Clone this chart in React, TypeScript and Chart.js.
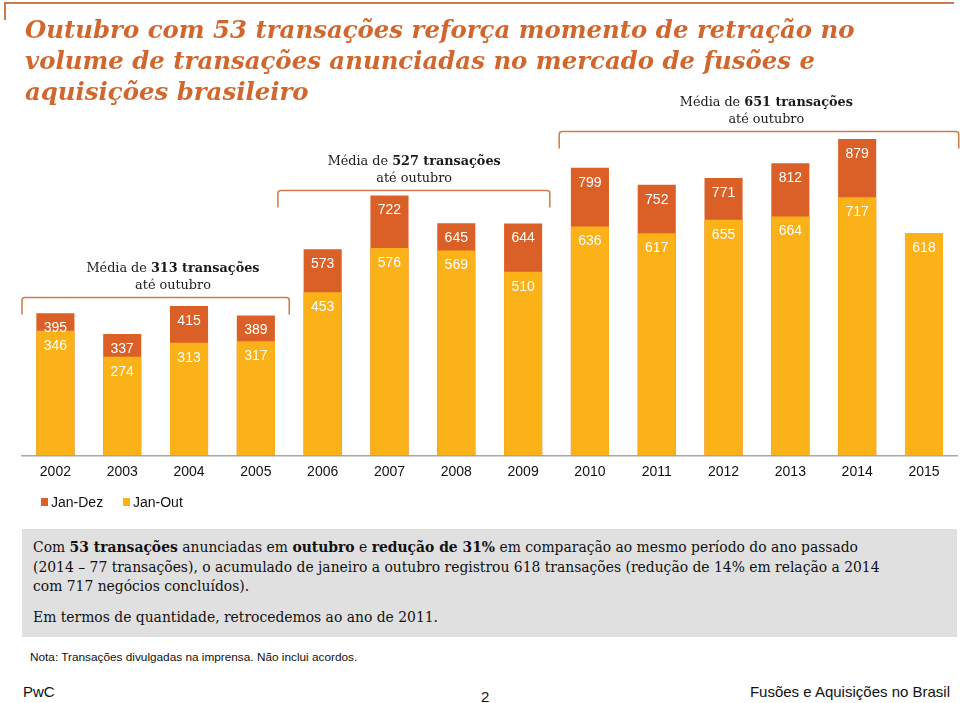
import React, { useEffect, useRef } from 'react';
import { Chart, registerables } from 'chart.js';

Chart.register(...registerables);

const years = ['2002', '2003', '2004', '2005', '2006', '2007', '2008', '2009', '2010', '2011', '2012', '2013', '2014', '2015'];
const janDez = [395, 337, 415, 389, 573, 722, 645, 644, 799, 752, 771, 812, 879, null];
const janOut = [346, 274, 313, 317, 453, 576, 569, 510, 636, 617, 655, 664, 717, 618];
const averageValues = [313, 527, 651];
const seriesNames = ['Jan-Dez', 'Jan-Out'];

const COLOR_DEZ = '#DA6027';
const COLOR_OUT = '#FBB118';
const ORANGE_TEXT = '#D2672D';
const BRACKET = '#C97B4B';

// bracket layout: category-index ranges and value-level heights
const brackets = [
  { from: -0.5, to: 3.5, level: 440, textX: 1.76 },
  { from: 3.33, to: 7.4, level: 737, textX: 5.37 },
  { from: 7.54, to: 13.52, level: 901, textX: 10.64 },
];

const SERIF = '"DejaVu Serif", serif';
const SANS = '"Liberation Sans", Arial, sans-serif';

const overlayPlugin = {
  id: 'overlay',
  afterDatasetsDraw(chart: any) {
    const ctx = chart.ctx;
    const x = chart.scales.x;
    const y = chart.scales.y;
    ctx.save();
    // value labels
    ctx.font = `14px ${SANS}`;
    ctx.fillStyle = '#ffffff';
    ctx.textAlign = 'center';
    ctx.textBaseline = 'middle';
    chart.data.datasets.forEach((ds: any, di: number) => {
      const meta = chart.getDatasetMeta(di);
      meta.data.forEach((bar: any, i: number) => {
        const v = ds.data[i];
        if (v === null || v === undefined) return;
        ctx.fillText(String(v), bar.x, bar.y + 15);
      });
    });
    // brackets + annotations
    const fs = 12.8;
    brackets.forEach((b, k) => {
      const x1 = x.getPixelForValue(b.from);
      const x2 = x.getPixelForValue(b.to);
      const yy = Math.round(y.getPixelForValue(b.level)) + 0.5;
      const drop = 17;
      const r = 3;
      ctx.strokeStyle = BRACKET;
      ctx.lineWidth = 1.5;
      ctx.beginPath();
      ctx.moveTo(x1, yy + drop);
      ctx.lineTo(x1, yy + r);
      ctx.quadraticCurveTo(x1, yy, x1 + r, yy);
      ctx.lineTo(x2 - r, yy);
      ctx.quadraticCurveTo(x2, yy, x2, yy + r);
      ctx.lineTo(x2, yy + drop);
      ctx.stroke();

      const cx = x.getPixelForValue(b.textX);
      const pre = 'Média de ';
      const bold = `${averageValues[k]} transações`;
      ctx.fillStyle = '#1a1a1a';
      ctx.textBaseline = 'middle';
      ctx.textAlign = 'left';
      ctx.font = `${fs}px ${SERIF}`;
      const w1 = ctx.measureText(pre).width;
      ctx.font = `bold ${fs}px ${SERIF}`;
      const w2 = ctx.measureText(bold).width;
      const sx = cx - (w1 + w2) / 2;
      ctx.font = `${fs}px ${SERIF}`;
      ctx.fillText(pre, sx, yy - 29);
      ctx.font = `bold ${fs}px ${SERIF}`;
      ctx.fillText(bold, sx + w1, yy - 29);
      ctx.font = `${fs}px ${SERIF}`;
      ctx.textAlign = 'center';
      ctx.fillText('até outubro', cx, yy - 12);
    });
    ctx.restore();
  },
};

function BarChart() {
  const ref = useRef<HTMLCanvasElement | null>(null);
  useEffect(() => {
    if (!ref.current) return;
    const chart = new Chart(ref.current, {
      type: 'bar',
      data: {
        labels: years,
        datasets: [
          {
            label: seriesNames[1],
            data: janOut,
            backgroundColor: COLOR_OUT,
            grouped: false,
            barPercentage: 0.57,
            categoryPercentage: 1,
          },
          {
            label: seriesNames[0],
            data: janDez,
            backgroundColor: COLOR_DEZ,
            grouped: false,
            barPercentage: 0.57,
            categoryPercentage: 1,
          },
        ],
      },
      options: {
        animation: false,
        responsive: false,
        maintainAspectRatio: false,
        layout: { padding: { top: 95.5, left: 22, right: 2.6, bottom: 9.6 } },
        scales: {
          x: {
            grid: { display: false, drawTicks: false },
            border: { display: true, color: '#a8a8a8', width: 1.5 },
            ticks: { color: '#111', font: { family: SANS, size: 14 }, padding: 8.6 },
          },
          y: { display: false, min: 0, max: 1000 },
        },
        plugins: {
          legend: { display: false },
          tooltip: { enabled: false },
        },
      },
      plugins: [overlayPlugin],
    });
    return () => chart.destroy();
  }, []);
  return (
    <canvas
      ref={ref}
      width={960}
      height={499}
      style={{ position: 'absolute', left: 0, top: 0, width: 960, height: 499 }}
    />
  );
}

function Legend() {
  const items = [
    { name: seriesNames[0], color: COLOR_DEZ, x: 41 },
    { name: seriesNames[1], color: COLOR_OUT, x: 123 },
  ];
  return (
    <>
      {items.map((it) => (
        <div key={it.name} style={{ position: 'absolute', left: it.x, top: 493, height: 18, display: 'flex', alignItems: 'center' }}>
          <span style={{ display: 'inline-block', width: 7, height: 8, background: it.color, marginRight: 3 }} />
          <span style={{ fontFamily: SANS, fontSize: 14, color: '#111', lineHeight: '18px' }}>{it.name}</span>
        </div>
      ))}
    </>
  );
}

export default function App() {
  const para: React.CSSProperties = { whiteSpace: 'nowrap', margin: 0 };
  return (
    <div style={{ position: 'fixed', left: 0, top: 0, width: 960, height: 703, background: '#fff', overflow: 'hidden' }}>
      <div style={{ position: 'absolute', left: 4, top: 2, width: 950, height: 2, background: BRACKET }} />
      <div style={{ position: 'absolute', left: 4, top: 2, width: 2, height: 18, background: BRACKET }} />
      <BarChart />
      <Legend />
      <div
        style={{
          position: 'absolute',
          left: 25,
          top: 14,
          fontFamily: SERIF,
          fontWeight: 'bold',
          fontStyle: 'italic',
          fontSize: 24.4,
          lineHeight: '31px',
          color: ORANGE_TEXT,
          whiteSpace: 'nowrap',
        }}
      >
        Outubro com 53 transações reforça momento de retração no
        <br />
        volume de transações anunciadas no mercado de fusões e
        <br />
        aquisições brasileiro
      </div>
      <div
        style={{
          position: 'absolute',
          left: 22,
          top: 529,
          width: 935,
          height: 108,
          boxSizing: 'border-box',
          background: '#E0E0E0',
          padding: '9px 11px',
          fontFamily: SERIF,
          fontSize: 13.9,
          lineHeight: '19.5px',
          color: '#111',
        }}
      >
        <div style={para}>
          Com <b>53 transações</b> anunciadas em <b>outubro</b> e <b>redução de 31%</b> em comparação ao mesmo período do ano passado
        </div>
        <div style={para}>(2014 – 77 transações), o acumulado de janeiro a outubro registrou 618 transações (redução de 14% em relação a 2014</div>
        <div style={para}>com 717 negócios concluídos).</div>
        <div style={{ ...para, marginTop: 11.5 }}>Em termos de quantidade, retrocedemos ao ano de 2011.</div>
      </div>
      <div style={{ position: 'absolute', left: 30, top: 650, fontFamily: SANS, fontSize: 11.8, lineHeight: '14px', color: '#111', whiteSpace: 'nowrap' }}>
        Nota: Transações divulgadas na imprensa. Não inclui acordos.
      </div>
      <div style={{ position: 'absolute', left: 23, top: 683, fontFamily: SANS, fontSize: 15, lineHeight: '18px', color: '#111' }}>PwC</div>
      <div style={{ position: 'absolute', left: 481, top: 688, fontFamily: SANS, fontSize: 15, lineHeight: '18px', color: '#111' }}>2</div>
      <div style={{ position: 'absolute', right: 10, top: 683, fontFamily: SANS, fontSize: 15, lineHeight: '18px', color: '#111', whiteSpace: 'nowrap' }}>
        Fusões e Aquisições no Brasil
      </div>
    </div>
  );
}
